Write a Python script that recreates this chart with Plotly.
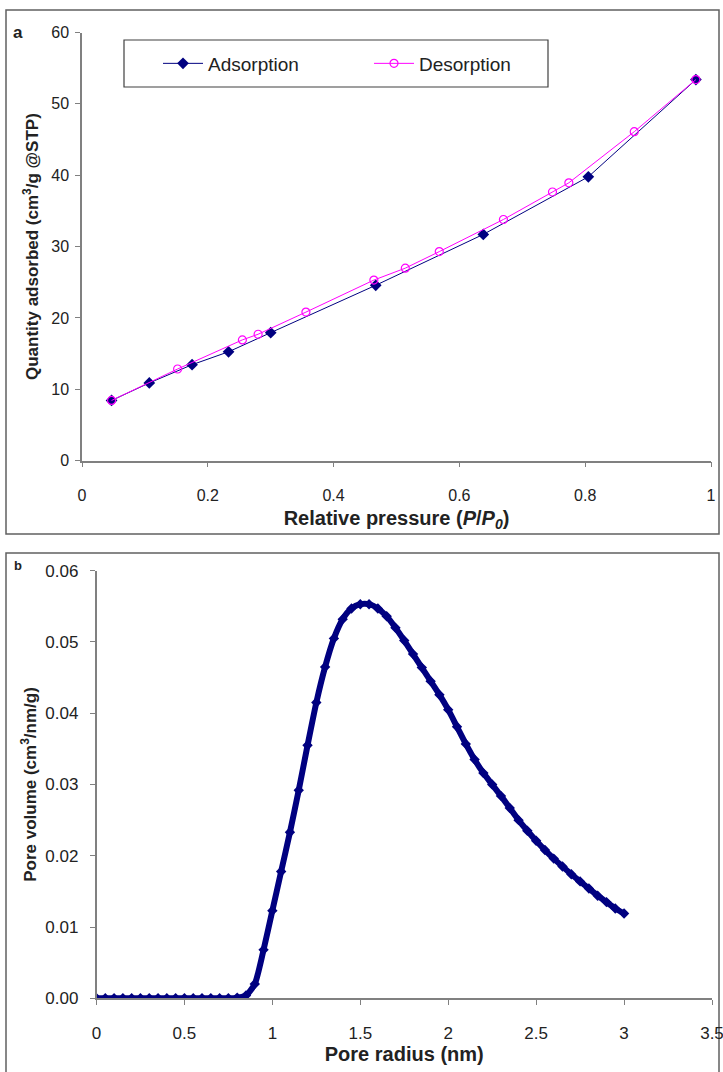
import plotly.graph_objects as go

W, H = 723, 1072

# ---- Panel a: isotherm ----
ads_p = [0.047, 0.107, 0.175, 0.233, 0.300, 0.467, 0.638, 0.805, 0.976]
ads_q = [8.44, 10.9, 13.45, 15.26, 17.94, 24.58, 31.71, 39.78, 53.4]

des_p = [0.047, 0.152, 0.255, 0.280, 0.356, 0.464, 0.514, 0.568, 0.670, 0.748, 0.774, 0.878, 0.976]
des_q = [8.44, 12.85, 16.93, 17.72, 20.82, 25.31, 26.98, 29.3, 33.8, 37.65, 38.94, 46.1, 53.4]

# ---- Panel b: pore size distribution ----
radius = [0.00, 0.05, 0.10, 0.15, 0.20, 0.25, 0.30, 0.35, 0.40, 0.45, 0.50, 0.55,
          0.60, 0.65, 0.70, 0.75, 0.80, 0.85, 0.90, 0.95, 1.00, 1.05, 1.10, 1.15,
          1.20, 1.25, 1.30, 1.35, 1.40, 1.45, 1.50, 1.55, 1.60, 1.65, 1.70, 1.75,
          1.80, 1.85, 1.90, 1.95, 2.00, 2.05, 2.10, 2.15, 2.20, 2.25, 2.30, 2.35,
          2.40, 2.45, 2.50, 2.55, 2.60, 2.65, 2.70, 2.75, 2.80, 2.85, 2.90, 2.95, 3.00]
pore_vol = [0, 0, 0, 0, 0, 0, 0, 0, 0, 0, 0, 0,
            0, 0, 0, 0, 0.0001, 0.0004, 0.0020, 0.0068, 0.0123, 0.0178, 0.0233, 0.0292,
            0.0355, 0.0415, 0.0465, 0.0505, 0.0532, 0.0547, 0.0553, 0.0553, 0.0547, 0.0536, 0.0520, 0.0502,
            0.0483, 0.0464, 0.0445, 0.0426, 0.0405, 0.0381, 0.0357, 0.0335, 0.0316, 0.0300, 0.0284, 0.0267,
            0.0250, 0.0235, 0.0221, 0.0208, 0.0196, 0.0185, 0.0174, 0.0164, 0.0154, 0.0144, 0.0135, 0.0126, 0.0119]

xa_ticks = [0, 0.2, 0.4, 0.6, 0.8, 1]
ya_ticks = [0, 10, 20, 30, 40, 50, 60]
xb_ticks = [0, 0.5, 1, 1.5, 2, 2.5, 3, 3.5]
yb_ticks = [0, 0.01, 0.02, 0.03, 0.04, 0.05, 0.06]

FONT = "Liberation Sans, Arial, sans-serif"
NAVY = "#000080"
MAG = "#FF00FF"
AXC = "#808080"
TXT = "#222222"

def px(x):
    return x / W

def py(y):
    return 1 - y / H

fig = go.Figure()

fig.add_trace(go.Scatter(
    x=ads_p, y=ads_q, mode="lines+markers", name="Adsorption",
    line=dict(color=NAVY, width=1),
    marker=dict(symbol="diamond", size=9, color=NAVY),
    xaxis="x", yaxis="y"))
fig.add_trace(go.Scatter(
    x=des_p, y=des_q, mode="lines+markers", name="Desorption",
    line=dict(color=MAG, width=1),
    marker=dict(symbol="circle-open", size=8, color=MAG, line=dict(width=1.2)),
    xaxis="x", yaxis="y"))
fig.add_trace(go.Scatter(
    x=radius, y=pore_vol, mode="lines+markers", name="Pore volume",
    line=dict(color=NAVY, width=6, shape="spline", smoothing=0.6),
    marker=dict(symbol="diamond", size=8, color=NAVY),
    showlegend=False, xaxis="x2", yaxis="y2"))

common = dict(
    showline=True, linecolor=AXC, linewidth=1.5, ticks="outside", ticklen=5,
    tickcolor=AXC, tickwidth=1.2, showgrid=False, zeroline=False, automargin=False,
    ticklabeloverflow="allow",
)
tick_a = dict(family=FONT, size=16, color=TXT)
tick_b = dict(family=FONT, size=17, color=TXT)
title_font_x = dict(family=FONT, size=20, color=TXT)
title_font_y = dict(family=FONT, size=17, color=TXT)

fig.update_layout(
    width=W, height=H,
    margin=dict(l=0, r=0, t=0, b=0, autoexpand=False),
    paper_bgcolor="white", plot_bgcolor="white",
    font=dict(family=FONT, color=TXT),
    xaxis=dict(domain=[px(82), px(711)], range=[0, 1], tickvals=xa_ticks,
               anchor="y", ticklabelstandoff=14, tickfont=tick_a,
               title=dict(text="<b>Relative pressure (<i>P</i>/<i>P</i><sub><i>0</i></sub>)</b>",
                          font=title_font_x, standoff=8), **common),
    yaxis=dict(domain=[py(460.7), py(32.5)], range=[0, 60], tickvals=ya_ticks,
               anchor="x", ticklabelstandoff=3, tickfont=tick_a,
               title=dict(text="<b>Quantity adsorbed (cm<sup>3</sup>/g @STP)</b>",
                          font=title_font_y, standoff=8), **common),
    xaxis2=dict(domain=[px(96.5), px(712)], range=[0, 3.5], tickvals=xb_ticks,
                anchor="y2", ticklabelstandoff=14, tickfont=tick_b,
                title=dict(text="<b>Pore radius (nm)</b>", font=title_font_x, standoff=5),
                **common),
    yaxis2=dict(domain=[py(998.3), py(570.7)], range=[0, 0.06], tickvals=yb_ticks,
                tickformat=".2f", anchor="x2", ticklabelstandoff=8, tickfont=tick_b,
                title=dict(text="<b>Pore volume (cm<sup>3</sup>/nm/g)</b>",
                           font=title_font_y, standoff=4), **common),
    legend=dict(orientation="h", x=px(158), y=py(63.5), xanchor="left", yanchor="middle",
                font=dict(family=FONT, size=19, color=TXT), bgcolor="rgba(0,0,0,0)",
                itemwidth=40, entrywidth=156, tracegroupgap=0),
    showlegend=True,
    shapes=[
        dict(type="rect", xref="paper", yref="paper", x0=px(6), x1=px(719), y0=py(534), y1=py(10),
             line=dict(color="#606060", width=1.5), fillcolor="rgba(0,0,0,0)", layer="below"),
        dict(type="rect", xref="paper", yref="paper", x0=px(6), x1=px(719), y0=py(1080), y1=py(553),
             line=dict(color="#606060", width=1.5), fillcolor="rgba(0,0,0,0)", layer="below"),
        dict(type="rect", xref="paper", yref="paper", x0=px(124), x1=px(548), y0=py(87), y1=py(40),
             line=dict(color="#404040", width=1.2), fillcolor="white", layer="below"),
    ],
    annotations=[
        dict(text="<b>a</b>", x=px(11), y=py(33), xref="paper", yref="paper", showarrow=False,
             xanchor="left", yanchor="middle", font=dict(family=FONT, size=17, color=TXT)),
        dict(text="<b>b</b>", x=px(12), y=py(565), xref="paper", yref="paper", showarrow=False,
             xanchor="left", yanchor="middle", font=dict(family=FONT, size=13, color=TXT)),
    ],
)

fig.write_html("out.html", config={"displayModeBar": False},
               post_script="document.body.style.margin='0';document.body.style.overflow='hidden';")
